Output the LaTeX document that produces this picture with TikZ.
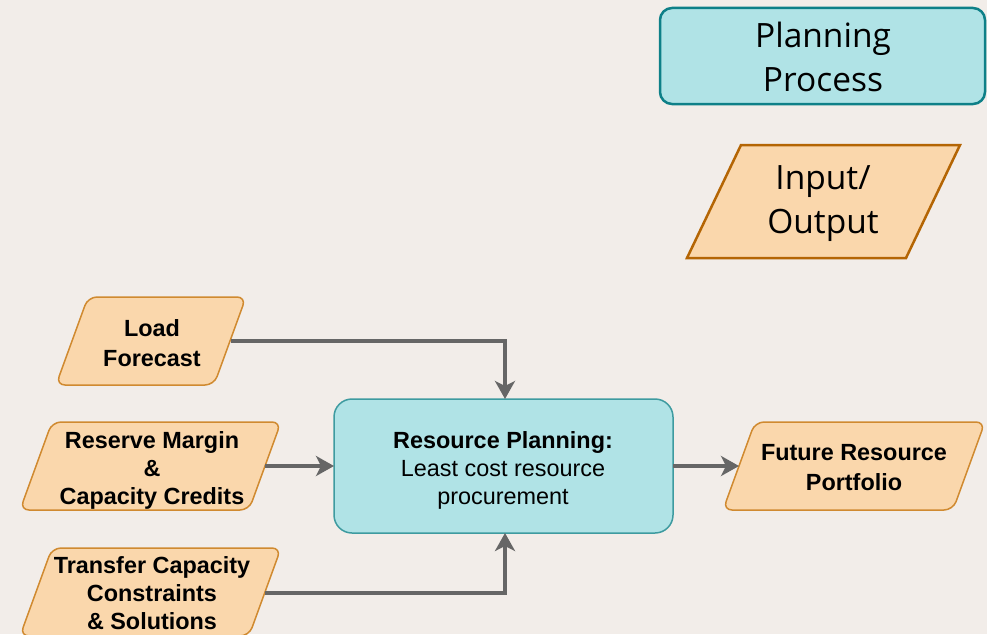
\documentclass[tikz,border=0pt]{standalone}
\usepackage{fontspec}
\setmainfont{Liberation Sans}
\newfontfamily\legendfont{Open Sans}
\usetikzlibrary{arrows.meta}
\definecolor{bg}{HTML}{F2EDE9}
\definecolor{iofill}{HTML}{FAD7AC}
\definecolor{iodraw}{HTML}{D08A30}
\definecolor{iodrawdark}{HTML}{B46504}
\definecolor{prfill}{HTML}{B0E3E6}
\definecolor{prdraw}{HTML}{3E9BA0}
\definecolor{prdrawdark}{HTML}{0E8088}
\definecolor{arrgray}{HTML}{666666}
\tikzset{
  iobox/.style={fill=iofill, draw=iodraw, line width=1.5pt, rounded corners=9pt},
  legio/.style={fill=iofill, draw=iodrawdark, line width=2.5pt},
  procbox/.style={fill=prfill, draw=prdraw, line width=1.5pt, rounded corners=18pt},
  legproc/.style={fill=prfill, draw=prdrawdark, line width=2.5pt, rounded corners=12pt},
  lbl/.style={align=center, font=\fontsize{23.4}{28}\selectfont, inner sep=0pt},
  leglbl/.style={align=center, font=\legendfont\fontsize{33.5}{44}\selectfont, inner sep=0pt},
  arr/.style={draw=arrgray, line width=4pt, -{Stealth[length=18pt,width=20pt,inset=5pt]}},
}
\begin{document}
\begin{tikzpicture}[x=1pt,y=1pt]
\useasboundingbox[fill=bg] (0,0) rectangle (987,-634);

% Legend
\draw[legproc] (660,-8) rectangle (985,-104);
\node[leglbl] (legp) at (823,-56.5) {Planning\\Process};
\draw[legio] (741,-145) -- (960,-145) -- (906,-258) -- (687,-258) -- cycle;
\node[leglbl] (legio) at (823,-204) {Input/\\Output};

% Inputs
\draw[iobox] (88,-297) -- (246,-297) -- (214,-385) -- (56,-385) -- cycle;
\node[lbl, font=\fontsize{23.4}{30}\selectfont] (load) at (152,-343) {\textbf{Load}\\\textbf{Forecast}};
\coordinate (loadR) at (231,-341);

\draw[iobox] (52,-422) -- (281,-422) -- (249,-510) -- (20,-510) -- cycle;
\node[lbl] (res) at (152,-470) {\textbf{Reserve Margin}\\\textbf{\&}\\\textbf{Capacity Credits}};
\coordinate (resR) at (265,-466);

\draw[iobox] (52,-548) -- (281,-548) -- (249,-636) -- (20,-636) -- cycle;
\node[lbl] (tr) at (152,-593) {\textbf{Transfer Capacity}\\\textbf{Constraints}\\\textbf{\& Solutions}};
\coordinate (trR) at (265,-593);

% Central process
\draw[procbox] (334,-399) rectangle (673,-533);
\node[lbl] (rp) at (503,-470) {\textbf{Resource Planning:}\\Least cost resource\\procurement};
\coordinate (rpT) at (505,-399);
\coordinate (rpB) at (505,-533);
\coordinate (rpL) at (334,-466);
\coordinate (rpR) at (673,-466);

% Output
\draw[iobox] (755,-422) -- (985,-422) -- (953,-510) -- (723,-510) -- cycle;
\node[lbl, font=\fontsize{23.4}{30}\selectfont] (fut) at (854,-468) {\textbf{Future Resource}\\\textbf{Portfolio}};
\coordinate (futL) at (739,-466);

% Connectors
\draw[arr] (loadR) -| (rpT);
\draw[arr] (resR) -- (rpL);
\draw[arr] (trR) -| (rpB);
\draw[arr] (rpR) -- (futL);
\end{tikzpicture}
\end{document}
